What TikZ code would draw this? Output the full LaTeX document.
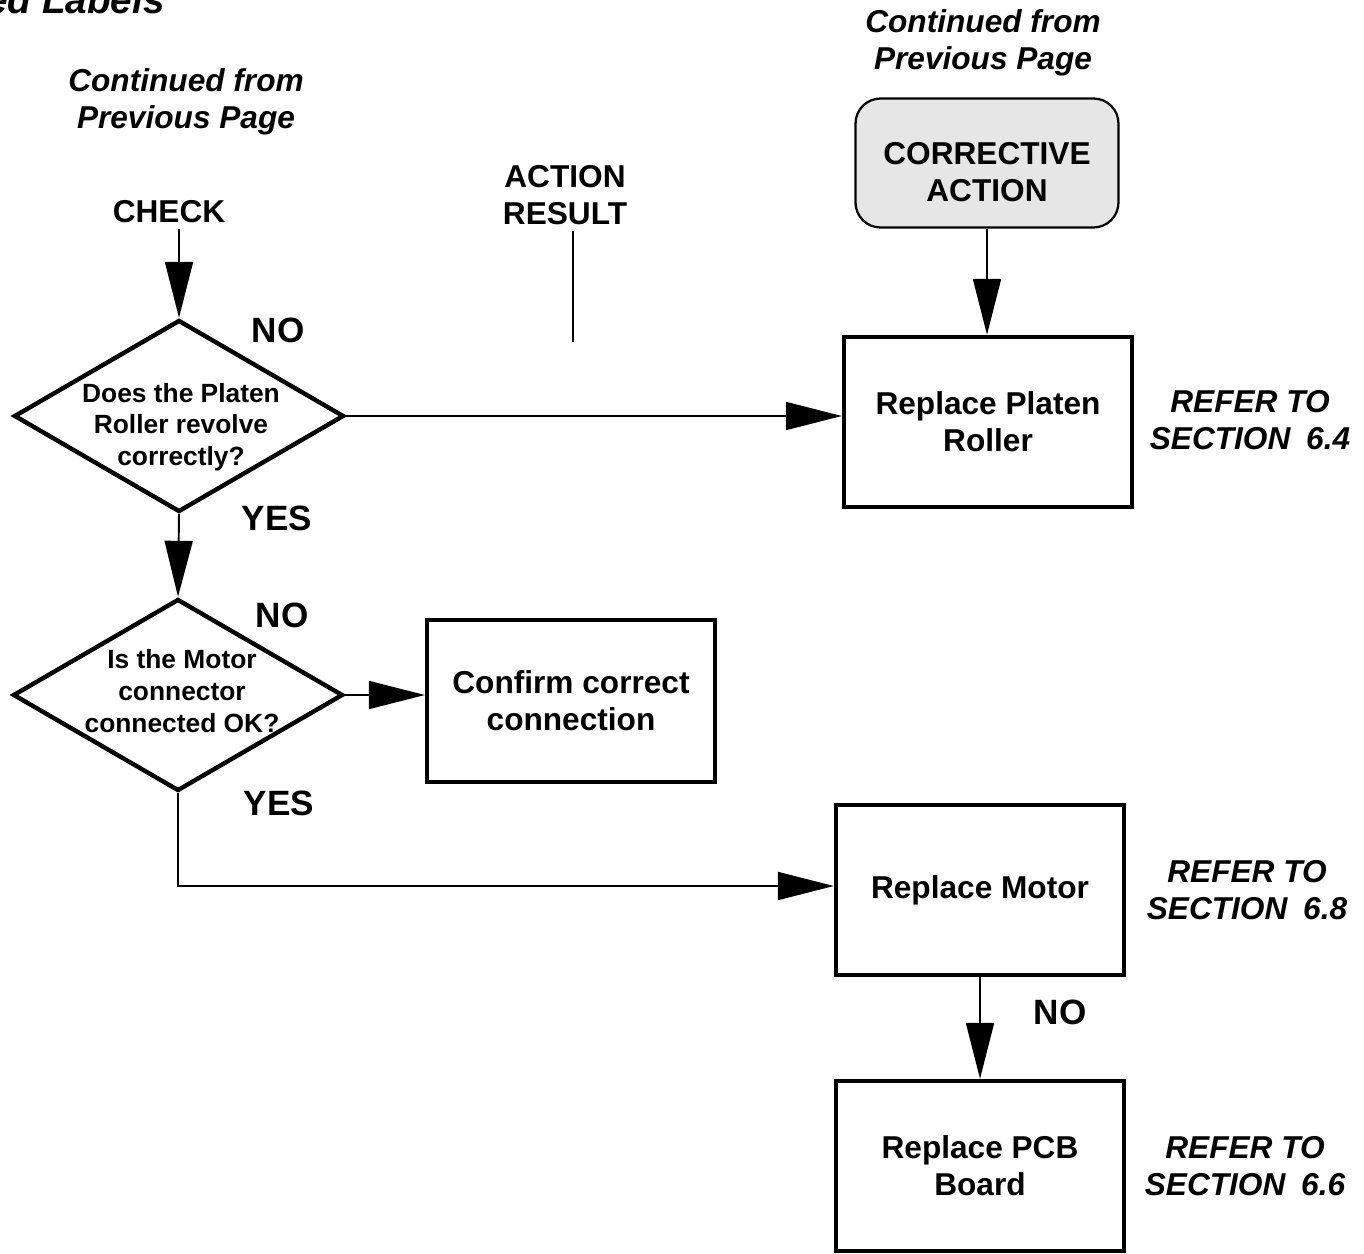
\documentclass[tikz,border=0pt]{standalone}
\usepackage{fontspec}
\setmainfont{Liberation Sans}
\usetikzlibrary{arrows.meta, positioning, calc, shapes.geometric}
\definecolor{StartGray}{HTML}{E6E6E6}
\tikzset{
  decision/.style={diamond, draw=black, line width=2.5pt, inner sep=0pt, minimum width=6.6cm, minimum height=3.84cm},
  qtext/.style={align=center, inner sep=0pt, font=\fontsize{15}{18}\selectfont\bfseries},
  actionbox/.style={draw=black, line width=2.5pt, align=center, minimum width=5.76cm, minimum height=3.4cm, font=\fontsize{18}{21}\selectfont\bfseries},
  startbox/.style={draw=black, line width=1.3pt, rounded corners=0.5cm, fill=StartGray, align=center, minimum width=5.26cm, minimum height=2.58cm, text height=44.5pt, font=\fontsize{18}{21.5}\selectfont\bfseries},
  heading/.style={align=center, font=\fontsize{18}{21}\selectfont\bfseries},
  note/.style={align=center, font=\fontsize{18}{21}\selectfont\bfseries\itshape},
  answer/.style={inner sep=0pt, font=\fontsize{20}{24}\selectfont\bfseries},
  arrow/.style={-{Triangle[length=1.12cm, width=0.56cm]}, line width=1.1pt},
  leader/.style={line width=1.1pt}
}

\begin{document}
\begin{tikzpicture}[x=0.02cm, y=-0.02cm]
\useasboundingbox (0,0) rectangle (1364,1253);

% headings along the top
\node[font=\fontsize{22}{26}\selectfont\bfseries\itshape, inner sep=0pt, anchor=base east] (title) at (165,14) {ed Labels};
\node[note] (contl) at (186,102) {Continued from\\Previous Page};
\node[note] (contr) at (983,43) {Continued from\\Previous Page};
\node[heading] (check) at (169,212) {CHECK};
\node[heading] (result) at (565,195) {ACTION\\RESULT};
\coordinate (resultend) at (573,342);

% decisions
\node[decision] (q1) at (179,416) {};
\node[qtext] (q1txt) at (181,427) {Does the Platen\\Roller revolve\\correctly?};
\node[decision] (q2) at (178,695) {};
\node[qtext] (q2txt) at (182,691) {Is the Motor\\connector\\connected OK?};

% actions
\node[startbox] (corr) at (987,163) {CORRECTIVE\\ACTION};
\node[actionbox] (platen) at (988,422) {Replace Platen\\Roller};
\node[actionbox, minimum height=3.24cm] (confirm) at (571,701) {Confirm correct\\connection};
\node[actionbox] (motor) at (980,890) {Replace Motor};
\node[actionbox] (pcb) at (980,1166) {Replace PCB\\Board};

% section references
\node[note] (ref1) at (1250,420) {REFER TO\\SECTION\enspace6.4};
\node[note] (ref2) at (1247,890) {REFER TO\\SECTION\enspace6.8};
\node[note] (ref3) at (1245,1166) {REFER TO\\SECTION\enspace6.6};

% answers
\node[answer] (no1) at (278,330) {NO};
\node[answer] (yes1) at (277,518) {YES};
\node[answer] (no2) at (282,615) {NO};
\node[answer] (yes2) at (279,803) {YES};
\node[answer] (no3) at (1060,1012) {NO};

% connectors
\draw[arrow] (check.south -| q1.north) -- (q1.north);
\draw[arrow] (q1.south) -- (q2.north);
\draw[arrow] (q1.east) -- (q1.east -| platen.west);
\draw[arrow] (q2.east) -- (q2.east -| confirm.west);
\draw[arrow] (q2.south) |- ($(motor.west)+(0,-4)$);
\draw[arrow] (corr.south) -- (corr.south |- platen.north);
\draw[arrow] (motor.south) -- (pcb.north);
\draw[leader] (result.south -| resultend) -- (resultend);
\end{tikzpicture}
\end{document}
